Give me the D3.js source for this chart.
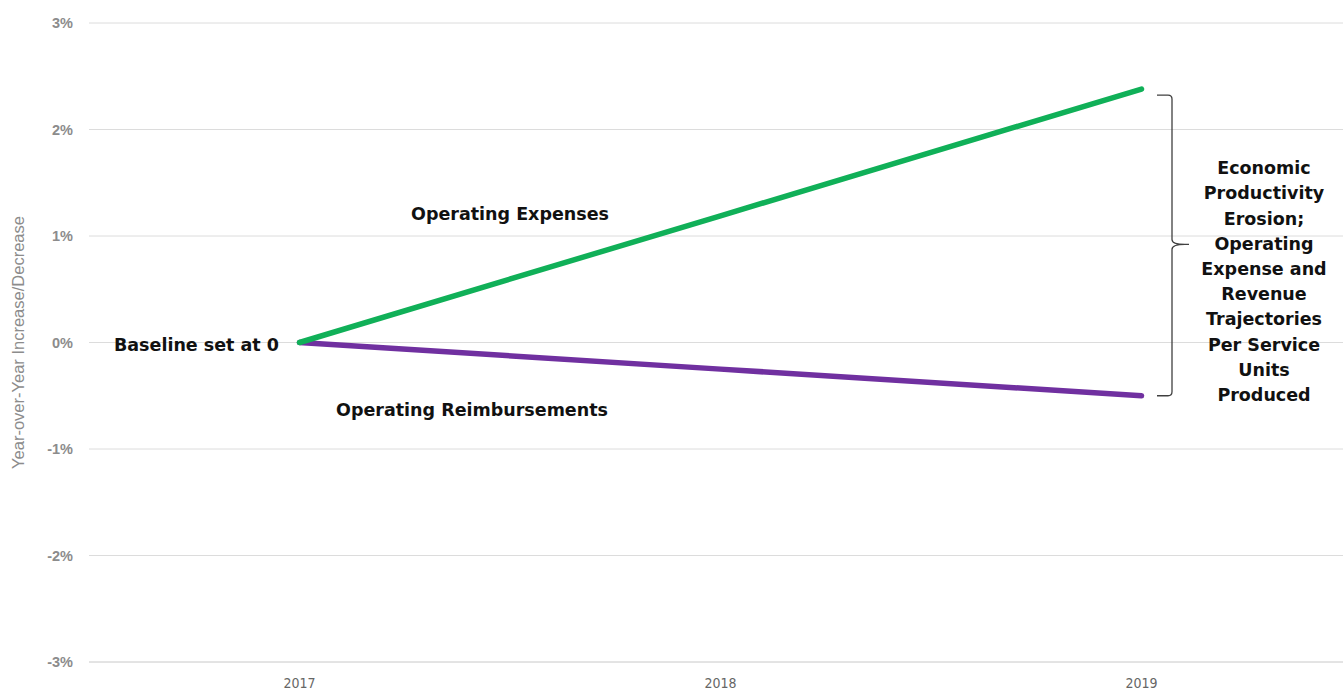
<!DOCTYPE html>
<html>
<head>
<meta charset="utf-8">
<script src="https://cdn.jsdelivr.net/npm/d3@7"></script>
<style>
  body { margin: 0; background: #fff; }
  svg { display: block; font-family: Arial, "Liberation Sans", sans-serif; }
  .lbl { font-family: "DejaVu Sans", sans-serif; font-weight: bold; font-size: 17.5px; fill: #111; }
</style>
</head>
<body>
<svg></svg>
<script>
const years = ["2017", "2018", "2019"];
const expenses = [0, 1.19, 2.38];
const reimbursements = [0, -0.25, -0.5];
const yTicks = [-3, -2, -1, 0, 1, 2, 3];
const noteLines = ["Economic", "Productivity", "Erosion;", "Operating", "Expense and",
  "Revenue", "Trajectories", "Per Service", "Units", "Produced"];

const width = 1343, height = 690;
const svg = d3.select("svg").attr("width", width).attr("height", height);

const x = d3.scalePoint().domain(years).range([89, 1352]).padding(0.5);
const y = d3.scaleLinear().domain([-3, 3]).range([662, 23]);

// gridlines
svg.append("g")
  .selectAll("line")
  .data(yTicks)
  .join("line")
  .attr("x1", 89).attr("x2", width)
  .attr("y1", d => y(d)).attr("y2", d => y(d))
  .attr("stroke", d => d === -3 ? "#c8c8c8" : "#dcdcdc")
  .attr("stroke-width", 1);

// y tick labels
svg.append("g")
  .selectAll("text")
  .data(yTicks)
  .join("text")
  .attr("x", 73)
  .attr("y", d => y(d))
  .attr("dy", "0.35em")
  .attr("text-anchor", "end")
  .attr("fill", "#8c8c8c")
  .attr("font-size", 14.5)
  .attr("font-weight", "bold")
  .text(d => d + "%");

// x tick labels
svg.append("g")
  .selectAll("text")
  .data(years)
  .join("text")
  .attr("x", d => x(d))
  .attr("y", 683)
  .attr("dy", "0.35em")
  .attr("text-anchor", "middle")
  .attr("fill", "#666")
  .attr("font-size", 14)
  .attr("font-family", "'DejaVu Sans Condensed', 'Liberation Sans Narrow', sans-serif")
  .attr("font-stretch", "condensed")
  .text(d => d);

// y axis title
svg.append("text")
  .attr("transform", `translate(24,${y(0)}) rotate(-90)`)
  .attr("text-anchor", "middle")
  .attr("fill", "#8c8c8c")
  .attr("font-size", 16.5)
  .text("Year-over-Year Increase/Decrease");

const line = d3.line()
  .x((d, i) => x(years[i]))
  .y(d => y(d));

svg.append("path")
  .datum(reimbursements)
  .attr("d", line)
  .attr("fill", "none")
  .attr("stroke", "#7030a0")
  .attr("stroke-width", 5.5)
  .attr("stroke-linecap", "round");

svg.append("path")
  .datum(expenses)
  .attr("d", line)
  .attr("fill", "none")
  .attr("stroke", "#10b058")
  .attr("stroke-width", 5.5)
  .attr("stroke-linecap", "round");

// series labels
svg.append("text").attr("class", "lbl")
  .attr("x", 510).attr("y", y(1.21))
  .attr("dy", "0.35em")
  .attr("text-anchor", "middle")
  .text("Operating Expenses");

svg.append("text").attr("class", "lbl")
  .attr("x", 472).attr("y", y(-0.63))
  .attr("dy", "0.35em")
  .attr("text-anchor", "middle")
  .text("Operating Reimbursements");

svg.append("text").attr("class", "lbl")
  .attr("x", 279).attr("y", y(0) + 2)
  .attr("dy", "0.35em")
  .attr("text-anchor", "end")
  .text("Baseline set at 0");

// bracket spanning the gap between the two trajectories
const bTop = y(expenses[2]) + 6, bBot = y(reimbursements[2]), bMid = (bTop + bBot) / 2 - 1;
const bx = 1172, bl = 1157, tip = 1189;
svg.append("path")
  .attr("d", `M${bl},${bTop} L${bx - 4},${bTop} Q${bx},${bTop} ${bx},${bTop + 4}
    L${bx},${bMid - 5} Q${bx},${bMid} ${tip - 4},${bMid} L${tip},${bMid}
    M${tip - 4},${bMid} Q${bx},${bMid} ${bx},${bMid + 5}
    L${bx},${bBot - 4} Q${bx},${bBot} ${bx - 4},${bBot} L${bl},${bBot}`)
  .attr("fill", "none")
  .attr("stroke", "#404040")
  .attr("stroke-width", 1.3);

svg.append("g")
  .selectAll("text")
  .data(noteLines)
  .join("text").attr("class", "lbl")
  .attr("x", 1264)
  .attr("y", (d, i) => 168 + i * 25.2)
  .attr("dy", "0.35em")
  .attr("text-anchor", "middle")
  .text(d => d);
</script>
</body>
</html>
